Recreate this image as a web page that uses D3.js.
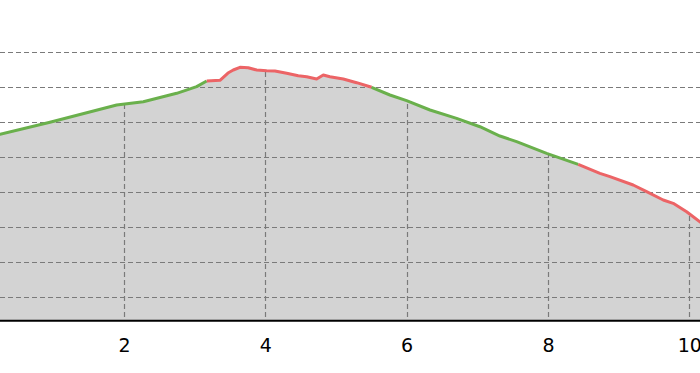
<!DOCTYPE html>
<html>
<head>
<meta charset="utf-8">
<script src="https://cdn.jsdelivr.net/npm/d3@7"></script>
<style>
  html, body { margin: 0; padding: 0; background: #fff; }
  svg { display: block; }
</style>
</head>
<body>
<svg id="chart" width="700" height="373"></svg>
<script>
// ---- data ----
const distanceKm = [0.20, 0.245, 0.952, 1.896, 2.273, 2.745, 3.028, 3.170, 3.358, 3.471, 3.546, 3.641, 3.758, 3.877, 4.019, 4.136, 4.302, 4.466, 4.585, 4.726, 4.820, 4.914, 5.103, 5.292, 5.504, 5.763, 5.999, 6.330, 6.707, 7.037, 7.320, 7.556, 7.981, 8.428, 8.735, 8.877, 9.206, 9.396, 9.631, 9.772, 9.962, 10.150, 10.20];
const elevation  = [281.8, 282.9, 300.0, 324.7, 329.4, 341.4, 350.9, 359.0, 360.0, 370.4, 374.7, 378.6, 378.0, 374.7, 373.7, 373.3, 370.0, 366.6, 365.1, 361.9, 367.6, 365.1, 361.9, 356.6, 350.0, 339.0, 330.9, 317.6, 305.7, 293.7, 280.4, 272.3, 255.7, 240.0, 227.1, 222.3, 210.4, 200.9, 189.0, 184.3, 172.3, 158.0, 154.2];
// coloured stretches of the profile: start km, end km, class
const segStart = [0.20, 3.170, 5.504, 8.428];
const segEnd   = [3.170, 5.504, 8.428, 10.20];
const segClass = ["gentle", "steep", "gentle", "steep"];
const xTicks = [2, 4, 6, 8, 10];
const yGrid  = [50, 100, 150, 200, 250, 300, 350, 400];

// ---- styles ----
const classColor = { gentle: "#6ab04c", steep: "#ec6466" };

const svg = d3.select("#chart");
const W = 700, H = 373;

const x = d3.scaleLinear().domain([0, 10]).range([-17.3, 689.3]);
const y = d3.scaleLinear().domain([16.6, 400]).range([320.7, 52.3]);

const pts = distanceKm.map((d, i) => ({ d, e: elevation[i] }));

// area fill
const area = d3.area().x(p => x(p.d)).y0(y(16.6)).y1(p => y(p.e));
svg.append("defs").append("clipPath").attr("id", "areaClip")
  .append("path").attr("d", area(pts));

svg.append("path").attr("d", area(pts)).attr("fill", "#d3d3d3");

// horizontal gridlines (full width)
svg.append("g").selectAll("line").data(yGrid).join("line")
  .attr("x1", 0).attr("x2", W)
  .attr("y1", d => Math.round(y(d)) + 0.5).attr("y2", d => Math.round(y(d)) + 0.5)
  .attr("stroke", "#7a7a7a").attr("stroke-width", 1.2)
  .attr("stroke-dasharray", "5,3");

// vertical gridlines (only under the profile)
svg.append("g").attr("clip-path", "url(#areaClip)")
  .selectAll("line").data(xTicks).join("line")
  .attr("x1", d => Math.round(x(d)) + 0.5).attr("x2", d => Math.round(x(d)) + 0.5)
  .attr("y1", 0).attr("y2", y(16.6))
  .attr("stroke", "#7a7a7a").attr("stroke-width", 1.2)
  .attr("stroke-dasharray", "5,3");

// profile line, coloured by stretch
const line = d3.line().x(p => x(p.d)).y(p => y(p.e));
segStart.forEach((s, i) => {
  const seg = pts.filter(p => p.d >= s - 1e-9 && p.d <= segEnd[i] + 1e-9);
  svg.append("path").attr("d", line(seg))
    .attr("fill", "none")
    .attr("stroke", classColor[segClass[i]])
    .attr("stroke-width", 3)
    .attr("stroke-linejoin", "round")
    .attr("stroke-linecap", "butt");
});

// bottom axis
const axis = d3.axisBottom(x).tickValues(xTicks).tickSize(0).tickPadding(18)
  .tickFormat(d3.format("d"));
const g = svg.append("g").attr("transform", `translate(0,${y(16.6)})`).call(axis);
g.select(".domain").remove();
g.selectAll("text").attr("font-family", "DejaVu Sans").attr("font-size", 19).attr("fill", "#000");
svg.append("line")
  .attr("x1", 0).attr("x2", W)
  .attr("y1", y(16.6)).attr("y2", y(16.6))
  .attr("stroke", "#000").attr("stroke-width", 2);
</script>
</body>
</html>
